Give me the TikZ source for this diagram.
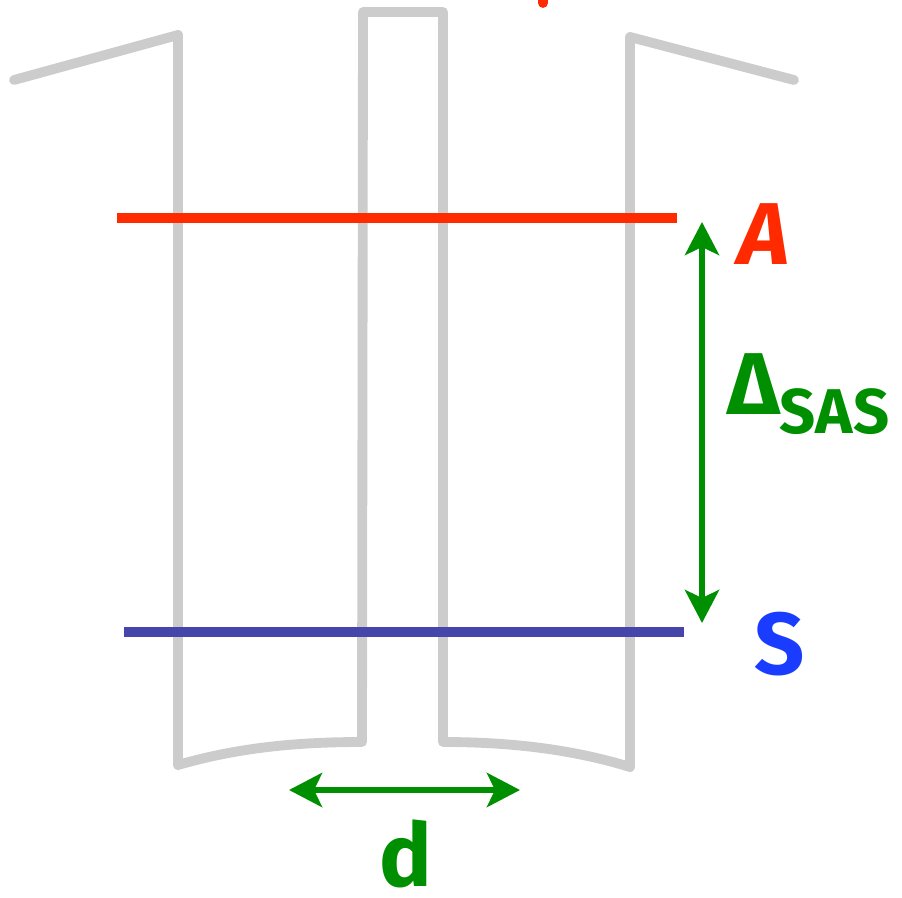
\documentclass[tikz,border=0pt]{standalone}
\usepackage{fontspec}
\setsansfont{Fira Sans}
\usetikzlibrary{arrows.meta}
\definecolor{wallgray}{HTML}{CCCCCC}
\definecolor{levelred}{HTML}{FF2A00}
\definecolor{levelblue}{HTML}{4646AA}
\definecolor{labelblue}{HTML}{1A3CFF}
\definecolor{dimgreen}{HTML}{008F00}
\tikzset{
  wall/.style={draw=wallgray,line width=5.6pt,line join=round,line cap=round},
  level/.style={line width=5.6pt},
  dimline/.style={draw=dimgreen,line width=3.4pt,{Stealth[length=0.66cm,width=0.68cm,inset=0.16cm]}-{Stealth[length=0.66cm,width=0.68cm,inset=0.16cm]}},
  lbl/.style={font=\sffamily\bfseries\fontsize{50}{50}\selectfont,inner sep=0pt}
}
\begin{document}
\begin{tikzpicture}[x=0.02cm,y=-0.02cm]
\useasboundingbox (0,0) rectangle (902,898);
% grey walls
\draw[wall] (14,80)--(178,35)--(178,765)
  .. controls (240,747) and (300,742) .. (362,742)--(363,12)--(443,12)--(443,742)
  .. controls (505,742) and (568,748) .. (630,767)--(630,37)--(794,80);
\draw[levelred,line width=5.6pt,line cap=round] (543,-4)--(543,3);
% levels
\coordinate (a1) at (117,218);
\coordinate (a2) at (677,218);
\coordinate (s1) at (124,632);
\coordinate (s2) at (684,632);
\draw[level,levelred] (a1)--(a2);
\draw[level,levelblue] (s1)--(s2);
% dimensions
\coordinate (top) at (702,222);
\coordinate (bot) at (702,623);
\coordinate (dl) at (289,790);
\coordinate (dr) at (520,790);
\draw[dimline] (top)--(bot);
\draw[dimline] (dl)--(dr);
\node[lbl,text=levelred] (A) at (764,234) {\itshape A};
\node[lbl,text=dimgreen,anchor=base west] (delta) at (727,414) {Δ\raisebox{-0.22em}{\fontsize{36}{36}\selectfont SAS}};
\node[lbl,text=labelblue] (S) at (780,644) {S};
\node[lbl,text=dimgreen,anchor=base] (d) at (406,886) {d};
\end{tikzpicture}
\end{document}
